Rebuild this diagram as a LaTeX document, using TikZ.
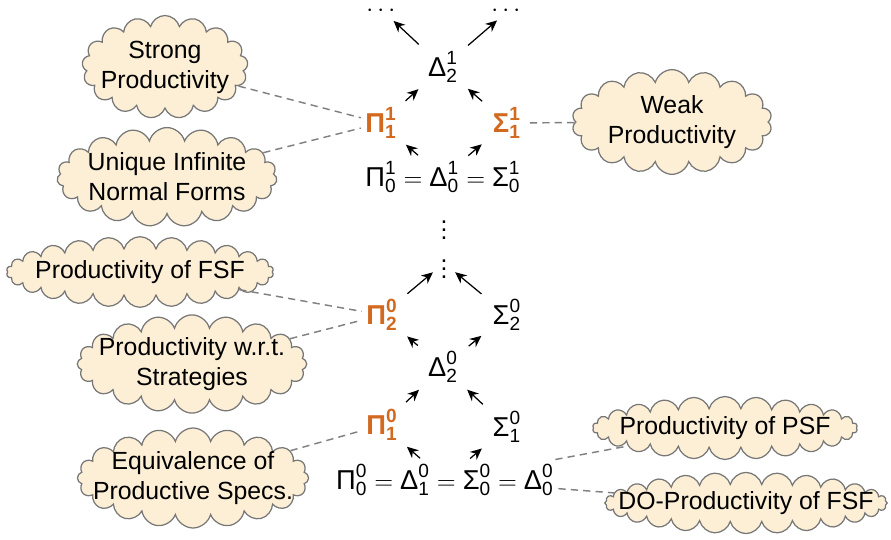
\documentclass[12pt,tikz,border=0pt]{standalone}
\usepackage{amsmath}
\usepackage{fontspec}
\setmainfont{Liberation Sans}
\usetikzlibrary{shapes.symbols,arrows.meta}
\definecolor{naranjaC}{HTML}{D2691E}
\definecolor{cremaN}{HTML}{FCEFD5}
\definecolor{grisN}{HTML}{777777}
\definecolor{grisL}{HTML}{808080}
\newcommand{\cls}[3]{\text{#1}_{\text{#2}}^{\text{#3}}}
\tikzset{
  nube/.style={cloud, cloud puffs=#1, cloud ignores aspect, draw=grisN, fill=cremaN,
    line width=0.6pt, inner sep=0pt},
  rotulo/.style={align=center, inner sep=0pt},
  clase/.style={font=\fontsize{13.2}{15}\selectfont, inner sep=2pt},
  destacada/.style={clase, text=naranjaC, font=\fontsize{13.2}{15}\selectfont\bfseries},
  flecha/.style={-{Stealth[length=5.5pt,width=5pt]}, semithick, shorten <=16pt, shorten >=16pt},
  enlace/.style={grisL, dash pattern=on 3.5pt off 2.5pt, line width=0.7pt},
}
\begin{document}
\begin{tikzpicture}[x=0.017cm,y=-0.017cm]
\useasboundingbox (0,0) rectangle (891,540);
% nivel analitico
\node[inner sep=0pt] (pdots) at (383,11) {$\cdots$};
\node[inner sep=0pt] (sdots) at (508,11) {$\cdots$};
\node[clase] (d21) at (443,67) {$\cls{Δ}{2}{1}$};
\node[destacada] (p11) at (381,123) {$\cls{Π}{1}{1}$};
\node[destacada] (s11) at (507,123) {$\cls{Σ}{1}{1}$};
\node[clase] (base1) at (443,177) {$\cls{Π}{0}{1} = \cls{Δ}{0}{1} = \cls{Σ}{0}{1}$};
\draw[flecha] (base1.center) -- (p11.center);
\draw[flecha] (base1.center) -- (s11.center);
\draw[flecha] (p11.center) -- (d21.center);
\draw[flecha] (s11.center) -- (d21.center);
\draw[flecha, shorten >=7pt] (d21.center) -- (pdots.center);
\draw[flecha, shorten >=7pt] (d21.center) -- (sdots.center);
% nivel aritmetico
\node[inner sep=0pt] (vd1) at (444,224) {$\vdots$};
\node[inner sep=0pt] (vd2) at (444,263) {$\vdots$};
\node[destacada] (p02) at (382,315) {$\cls{Π}{2}{0}$};
\node[clase] (s02) at (507,315) {$\cls{Σ}{2}{0}$};
\node[clase] (d02) at (443,367) {$\cls{Δ}{2}{0}$};
\node[destacada] (p01) at (382,425) {$\cls{Π}{1}{0}$};
\node[clase] (s01) at (507,427) {$\cls{Σ}{1}{0}$};
\node[clase] (base0) at (445,480) {$\cls{Π}{0}{0} = \cls{Δ}{1}{0} = \cls{Σ}{0}{0} = \cls{Δ}{0}{0}$};
\draw[flecha, shorten >=7pt] (p02.center) -- (vd2.center);
\draw[flecha, shorten >=7pt] (s02.center) -- (vd2.center);
\draw[flecha] (d02.center) -- (p02.center);
\draw[flecha] (d02.center) -- (s02.center);
\draw[flecha] (p01.center) -- (d02.center);
\draw[flecha] (s01.center) -- (d02.center);
\draw[flecha] (base0.center) -- (p01.center);
\draw[flecha] (base0.center) -- (s01.center);
% propiedades
\node[nube=17, minimum width=2.82cm, minimum height=1.75cm] (fuerte) at (165,67) {};
\node[rotulo] (tfuerte) at (fuerte) {Strong\\Productivity};
\node[nube=19, minimum width=3.74cm, minimum height=1.68cm] (unica) at (167,177) {};
\node[rotulo] (tunica) at (unica) {Unique Infinite\\Normal Forms};
\node[nube=18, minimum width=3.4cm, minimum height=1.78cm] (debil) at (672,122) {};
\node[rotulo] (tdebil) at (debil) {Weak\\Productivity};
\node[nube=26, minimum width=4.54cm, minimum height=1.2cm] (fsf) at (140,272) {};
\node[rotulo] (tfsf) at (fsf) {Productivity of FSF};
\node[nube=20, minimum width=3.9cm, minimum height=1.67cm] (estr) at (192,364) {};
\node[rotulo] (testr) at (estr) {Productivity w.r.t.\\Strategies};
\node[nube=20, minimum width=3.93cm, minimum height=1.7cm] (equiv) at (193,478) {};
\node[rotulo] (tequiv) at (equiv) {Equivalence of\\Productive Specs.};
\node[nube=26, minimum width=4.5cm, minimum height=1.07cm] (psf) at (725,428) {};
\node[rotulo] (tpsf) at (psf) {Productivity of PSF};
\node[nube=28, minimum width=4.8cm, minimum height=1.04cm] (dofsf) at (746,503) {};
\node[rotulo] (tdofsf) at (dofsf) {DO-Productivity of FSF};
\draw[enlace] (fuerte) -- (p11);
\draw[enlace] (unica) -- (p11);
\draw[enlace] (debil) -- (s11);
\draw[enlace] (fsf) -- (p02);
\draw[enlace] (estr) -- (p02);
\draw[enlace] (equiv) -- (p01);
\draw[enlace] (base0) -- (psf);
\draw[enlace] (base0) -- (dofsf);
\end{tikzpicture}
\end{document}
